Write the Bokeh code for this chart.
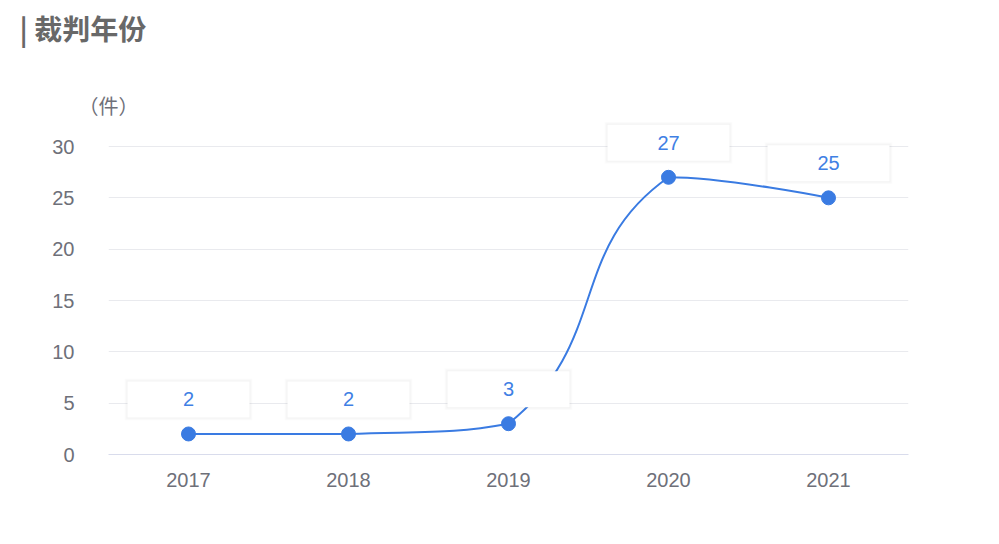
import math
from bokeh.plotting import figure
from bokeh.models import Range1d, FixedTicker, LinearAxis, ColumnDataSource, Title
from bokeh.embed import file_html
from bokeh.resources import INLINE
from bokeh.core.properties import value

# ---- data ----
years = ["2017", "2018", "2019", "2020", "2021"]
counts = [2, 2, 3, 27, 25]
y_ticks = [0, 5, 10, 15, 20, 25, 30]
title_text = "|  裁判年份"
unit_text = "（件）"

# ---- layout constants ----
ML, MR, MT, MB = 108, 82, 121, 82
FW, FH = 800, 333
y_axis_px = 308            # pixels used for 0..30
px_per_unit = y_axis_px / y_ticks[-1]
x_end = len(years)
px_per_cat = FW / x_end
y_end = FH / px_per_unit

LINE = "#3a7be2"
TEXT_BLUE = "#3f80e4"
GRAY = "#6e7079"
FONT = "Liberation Sans"
CJK = "Noto Sans CJK SC"

xs = [i + 0.5 for i in range(len(years))]

p = figure(frame_width=FW, frame_height=FH, output_backend="svg",
           toolbar_location=None,
           x_range=Range1d(0, x_end), y_range=Range1d(0, y_end),
           min_border_left=ML, min_border_right=MR, min_border_top=MT,
           min_border_bottom=MB, background_fill_color="white",
           border_fill_color="white")
p.outline_line_color = None

# title
p.title = Title(text=title_text, align="left", offset=-89, standoff=10,
                text_font=CJK, text_font_size="28px", text_font_style="bold",
                text_color="#686868")

# axes
p.xaxis.ticker = FixedTicker(ticks=xs)
p.xaxis.major_label_overrides = {x: y for x, y in zip(xs, years)}
p.xaxis.axis_line_color = "#d9dcec"
p.xaxis.axis_line_width = 1
p.xaxis.major_tick_line_color = None
p.xaxis.minor_tick_line_color = None
p.xaxis.major_label_standoff = 12
p.xaxis.major_label_text_font = FONT
p.xaxis.major_label_text_font_size = "20px"
p.xaxis.major_label_text_color = GRAY

p.yaxis.ticker = FixedTicker(ticks=y_ticks)
p.yaxis.axis_line_color = None
p.yaxis.major_tick_line_color = None
p.yaxis.minor_tick_line_color = None
p.yaxis.major_label_standoff = 28
p.yaxis.major_label_text_font = FONT
p.yaxis.major_label_text_font_size = "20px"
p.yaxis.major_label_text_color = GRAY

# unit name above the value axis
unit_axis = LinearAxis(ticker=FixedTicker(ticks=[0]),
                       major_label_overrides={0: unit_text})
unit_axis.axis_line_color = None
unit_axis.major_tick_line_color = None
unit_axis.minor_tick_line_color = None
unit_axis.major_label_standoff = -4
unit_axis.major_label_text_font = CJK
unit_axis.major_label_text_font_size = "20px"
unit_axis.major_label_text_color = GRAY
unit_axis.axis_label = "\u00a0"
unit_axis.axis_label_text_font = FONT
unit_axis.axis_label_text_font_size = "13px"
unit_axis.axis_label_standoff = 17
p.add_layout(unit_axis, "above")

p.xgrid.grid_line_color = None
p.ygrid.ticker = FixedTicker(ticks=y_ticks[1:])
p.ygrid.grid_line_color = "#e9eaee"
p.ygrid.grid_line_width = 1


# ---- smooth line (ECharts-4 style bezier with bounding-box constraint) ----
def smooth_segments(xd, yd, smooth=0.5):
    P = [(x * px_per_cat, y * px_per_unit) for x, y in zip(xd, yd)]
    mnx = min(q[0] for q in P); mxx = max(q[0] for q in P)
    mny = min(q[1] for q in P); mxy = max(q[1] for q in P)

    def clamp(c):
        return (min(max(c[0], mnx), mxx), min(max(c[1], mny), mxy))

    segs = []
    cp0 = P[0]
    n = len(P)
    for i in range(1, n):
        pt = P[i]
        prev = P[i - 1]
        if i == n - 1:
            ncp = pt
            nxt_cp0 = pt
        else:
            nx = P[i + 1]
            v = (nx[0] - prev[0], nx[1] - prev[1])
            lp = math.dist(pt, prev)
            ln = math.dist(pt, nx)
            r = ln / (ln + lp)
            ncp = (pt[0] - v[0] * smooth * (1 - r), pt[1] - v[1] * smooth * (1 - r))
            nxt_cp0 = (pt[0] + v[0] * smooth * r, pt[1] + v[1] * smooth * r)
        segs.append((prev, pt, clamp(cp0), clamp(ncp)))
        cp0 = nxt_cp0
    f = lambda q: (q[0] / px_per_cat, q[1] / px_per_unit)
    out = {k: [] for k in ["x0", "y0", "x1", "y1", "cx0", "cy0", "cx1", "cy1"]}
    for a, b, c0, c1 in segs:
        a, b, c0, c1 = f(a), f(b), f(c0), f(c1)
        out["x0"].append(a[0]); out["y0"].append(a[1])
        out["x1"].append(b[0]); out["y1"].append(b[1])
        out["cx0"].append(c0[0]); out["cy0"].append(c0[1])
        out["cx1"].append(c1[0]); out["cy1"].append(c1[1])
    return out


bz = ColumnDataSource(smooth_segments(xs, counts))
p.bezier(x0="x0", y0="y0", x1="x1", y1="y1", cx0="cx0", cy0="cy0",
         cx1="cx1", cy1="cy1", source=bz, line_color=LINE, line_width=2)

# ---- label boxes ----
box_off = 34.5 / px_per_unit
src = ColumnDataSource(dict(x=xs, y=counts, ly=[c + box_off for c in counts],
                            t=[str(c) for c in counts]))
for (bw, bh, a) in [(128, 42, 0.012), (126, 40, 0.015), (124, 38, 0.02)]:
    p.rect(x="x", y="ly", width=bw, height=bh, width_units="screen",
           height_units="screen", source=src, fill_color="#000000",
           fill_alpha=a, line_color=None)
p.rect(x="x", y="ly", width=122, height=36, width_units="screen",
       height_units="screen", source=src, fill_color="white",
       line_color=None)
p.text(x="x", y="ly", text="t", source=src, text_align="center",
       text_baseline="middle", text_color=TEXT_BLUE,
       text_font=value(FONT), text_font_size="20px")

p.scatter(x="x", y="y", source=src, size=14, marker="circle",
          fill_color=LINE, line_color=LINE)

open("out.html", "w").write(file_html(p, INLINE))
